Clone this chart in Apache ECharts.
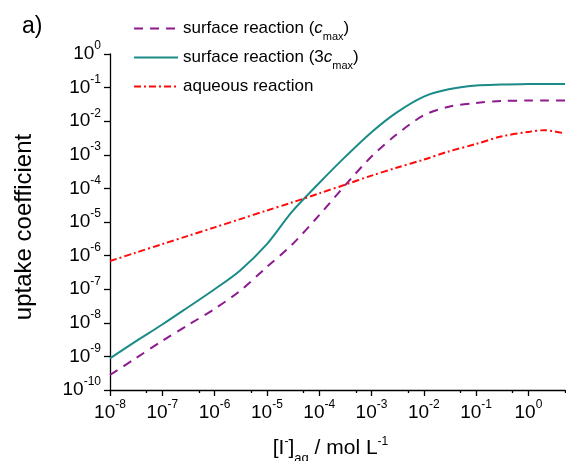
<!DOCTYPE html>
<html>
<head>
<meta charset="utf-8">
<script src="https://cdn.jsdelivr.net/npm/echarts@6/dist/echarts.min.js"></script>
<style>
  html, body { margin: 0; padding: 0; background: #ffffff; }
  #chart { width: 566px; height: 461px; }
</style>
</head>
<body>
<div id="chart"></div>
<script>
// Iodide concentration [I-]aq in mol/L
const concentration = [1e-8, 3e-8, 1e-7, 3e-7, 1e-6, 3e-6, 1e-5, 3e-5, 1e-4, 3e-4,
                       1e-3, 3e-3, 1e-2, 3e-2, 1e-1, 3e-1, 1, 2, 5];

// Uptake coefficient, surface reaction at c_max
const gammaSurface = [2.8e-10, 8.5e-10, 2.9e-9, 8.3e-9, 2.6e-8, 8.7e-8, 4.6e-7, 2.1e-6, 1.6e-5, 1.15e-4,
                      8.9e-4, 4.0e-3, 1.5e-2, 2.7e-2, 3.5e-2, 4.0e-2, 4.1e-2, 4.1e-2, 4.1e-2];

// Uptake coefficient, surface reaction at 3 c_max
const gammaSurface3 = [8.7e-10, 2.7e-9, 8.9e-9, 2.8e-8, 1.0e-7, 3.5e-7, 2.2e-6, 2.0e-5, 1.45e-4, 8.1e-4,
                       4.7e-3, 1.8e-2, 5.4e-2, 8.9e-2, 0.115, 0.123, 0.129, 0.129, 0.129];

// Uptake coefficient, aqueous reaction
const gammaAqueous = [6.9e-7, 1.2e-6, 2.2e-6, 3.8e-6, 6.9e-6, 1.2e-5, 2.2e-5, 3.8e-5, 7.1e-5, 1.26e-4,
                      2.4e-4, 4.1e-4, 7.2e-4, 1.26e-3, 2.1e-3, 3.5e-3, 4.8e-3, 5.4e-3, 4.3e-3];

// Axis ticks
const xMajorTicks = [1e-8, 1e-7, 1e-6, 1e-5, 1e-4, 1e-3, 1e-2, 1e-1, 1];
const xMinorTicks = [5e-8, 5e-7, 5e-6, 5e-5, 5e-4, 5e-3, 5e-2, 5e-1, 5];
const xRange = [1e-8, 5];
const yRange = [1e-10, 1];

const seriesNames = ['surface reaction (c max)', 'surface reaction (3c max)', 'aqueous reaction'];
const legendLabels = {
  'surface reaction (c max)': 'surface reaction ({i|c}{sub|max})',
  'surface reaction (3c max)': 'surface reaction (3{i|c}{sub|max})',
  'aqueous reaction': 'aqueous reaction'
};
const colors = ['#8e1a8f', '#1b8b88', '#ff0a0a'];

const FONT = '"Liberation Sans", Arial, sans-serif';

function powLabel(v) {
  const e = Math.log10(v);
  const r = Math.round(e);
  if (Math.abs(e - r) > 1e-6) return '';
  return '10{sup|' + r + '}';
}

const tickRich = {
  sup: { fontSize: 12, lineHeight: 12, padding: [0, 0, 16, 0], fontFamily: FONT, color: '#000' }
};

function pairs(ys) {
  return concentration.map((x, i) => [x, ys[i]]);
}

const chart = echarts.init(document.getElementById('chart'), null, { renderer: 'canvas' });

chart.setOption({
  animation: false,
  backgroundColor: '#ffffff',
  textStyle: { fontFamily: FONT },
  grid: { left: 110, right: 1, top: 54, bottom: 71, outerBoundsMode: 'none', containLabel: false },
  graphic: [{
    type: 'text', left: 22, top: 15,
    style: { text: 'a)', fontSize: 23, fontFamily: FONT, fill: '#000' }
  }],
  legend: {
    orient: 'vertical',
    left: 133, top: 15, padding: 0,
    itemWidth: 44, itemHeight: 14, itemGap: 2,
    itemStyle: { opacity: 0 },
    data: seriesNames,
    formatter: name => legendLabels[name],
    textStyle: {
      fontSize: 17, lineHeight: 27, color: '#000', fontFamily: FONT,
      rich: {
        i: { fontSize: 17, lineHeight: 27, fontStyle: 'italic', fontFamily: FONT, color: '#000' },
        sub: { fontSize: 11, lineHeight: 11, padding: [16, 0, 0, 0], fontFamily: FONT, color: '#000' }
      }
    }
  },
  xAxis: [{
    type: 'log', logBase: 10,
    min: xRange[0], max: xRange[1],
    position: 'bottom',
    axisLine: { show: true, lineStyle: { color: '#000', width: 1.3 } },
    axisTick: { show: true, length: 6, customValues: xMajorTicks, lineStyle: { color: '#000', width: 1.3 } },
    axisLabel: {
      customValues: xMajorTicks,
      formatter: powLabel, margin: 13,
      fontSize: 19, lineHeight: 20, color: '#000', fontFamily: FONT,
      rich: tickRich
    },
    splitLine: { show: false },
    name: '[I{sup|-}]{sub|aq} / mol L{sup|-1}',
    nameLocation: 'middle', nameGap: 42,
    nameTextStyle: {
      fontSize: 21, lineHeight: 24, color: '#000', fontFamily: FONT, padding: [0, 14, 0, 0],
      rich: {
        sup: { fontSize: 12, lineHeight: 12, padding: [0, 0, 13, 0], fontFamily: FONT, color: '#000' },
        sub: { fontSize: 13, lineHeight: 13, padding: [20, 0, 0, 0], fontFamily: FONT, color: '#000' }
      }
    }
  }, {
    type: 'log', logBase: 10,
    min: xRange[0], max: xRange[1],
    position: 'bottom',
    axisLine: { show: false },
    axisTick: { show: true, length: 3, customValues: xMinorTicks, lineStyle: { color: '#000', width: 1.3 } },
    axisLabel: { show: false },
    splitLine: { show: false }
  }],
  yAxis: {
    type: 'log', logBase: 10,
    min: yRange[0], max: yRange[1], interval: 1,
    axisLine: { show: true, lineStyle: { color: '#000', width: 1.3 } },
    axisTick: { show: true, length: 6, lineStyle: { color: '#000', width: 1.3 } },
    axisLabel: {
      formatter: powLabel, margin: 9,
      fontSize: 19, lineHeight: 20, color: '#000', fontFamily: FONT,
      rich: tickRich
    },
    splitLine: { show: false },
    name: 'uptake coefficient',
    nameLocation: 'middle', nameGap: 74,
    nameTextStyle: { fontSize: 24, color: '#000', fontFamily: FONT, padding: [0, 10, 0, 0] }
  },
  series: [{
    name: seriesNames[0], type: 'line', xAxisIndex: 0,
    data: pairs(gammaSurface),
    smooth: 0.3, symbol: 'none',
    lineStyle: { color: colors[0], width: 2, type: [9, 7] },
    itemStyle: { color: colors[0] }
  }, {
    name: seriesNames[1], type: 'line', xAxisIndex: 0,
    data: pairs(gammaSurface3),
    smooth: 0.3, symbol: 'none',
    lineStyle: { color: colors[1], width: 2, type: 'solid' },
    itemStyle: { color: colors[1] }
  }, {
    name: seriesNames[2], type: 'line', xAxisIndex: 0,
    data: pairs(gammaAqueous),
    smooth: 0.3, symbol: 'none',
    lineStyle: { color: colors[2], width: 2, type: [7, 3, 2, 3] },
    itemStyle: { color: colors[2] }
  }]
});
</script>
</body>
</html>
